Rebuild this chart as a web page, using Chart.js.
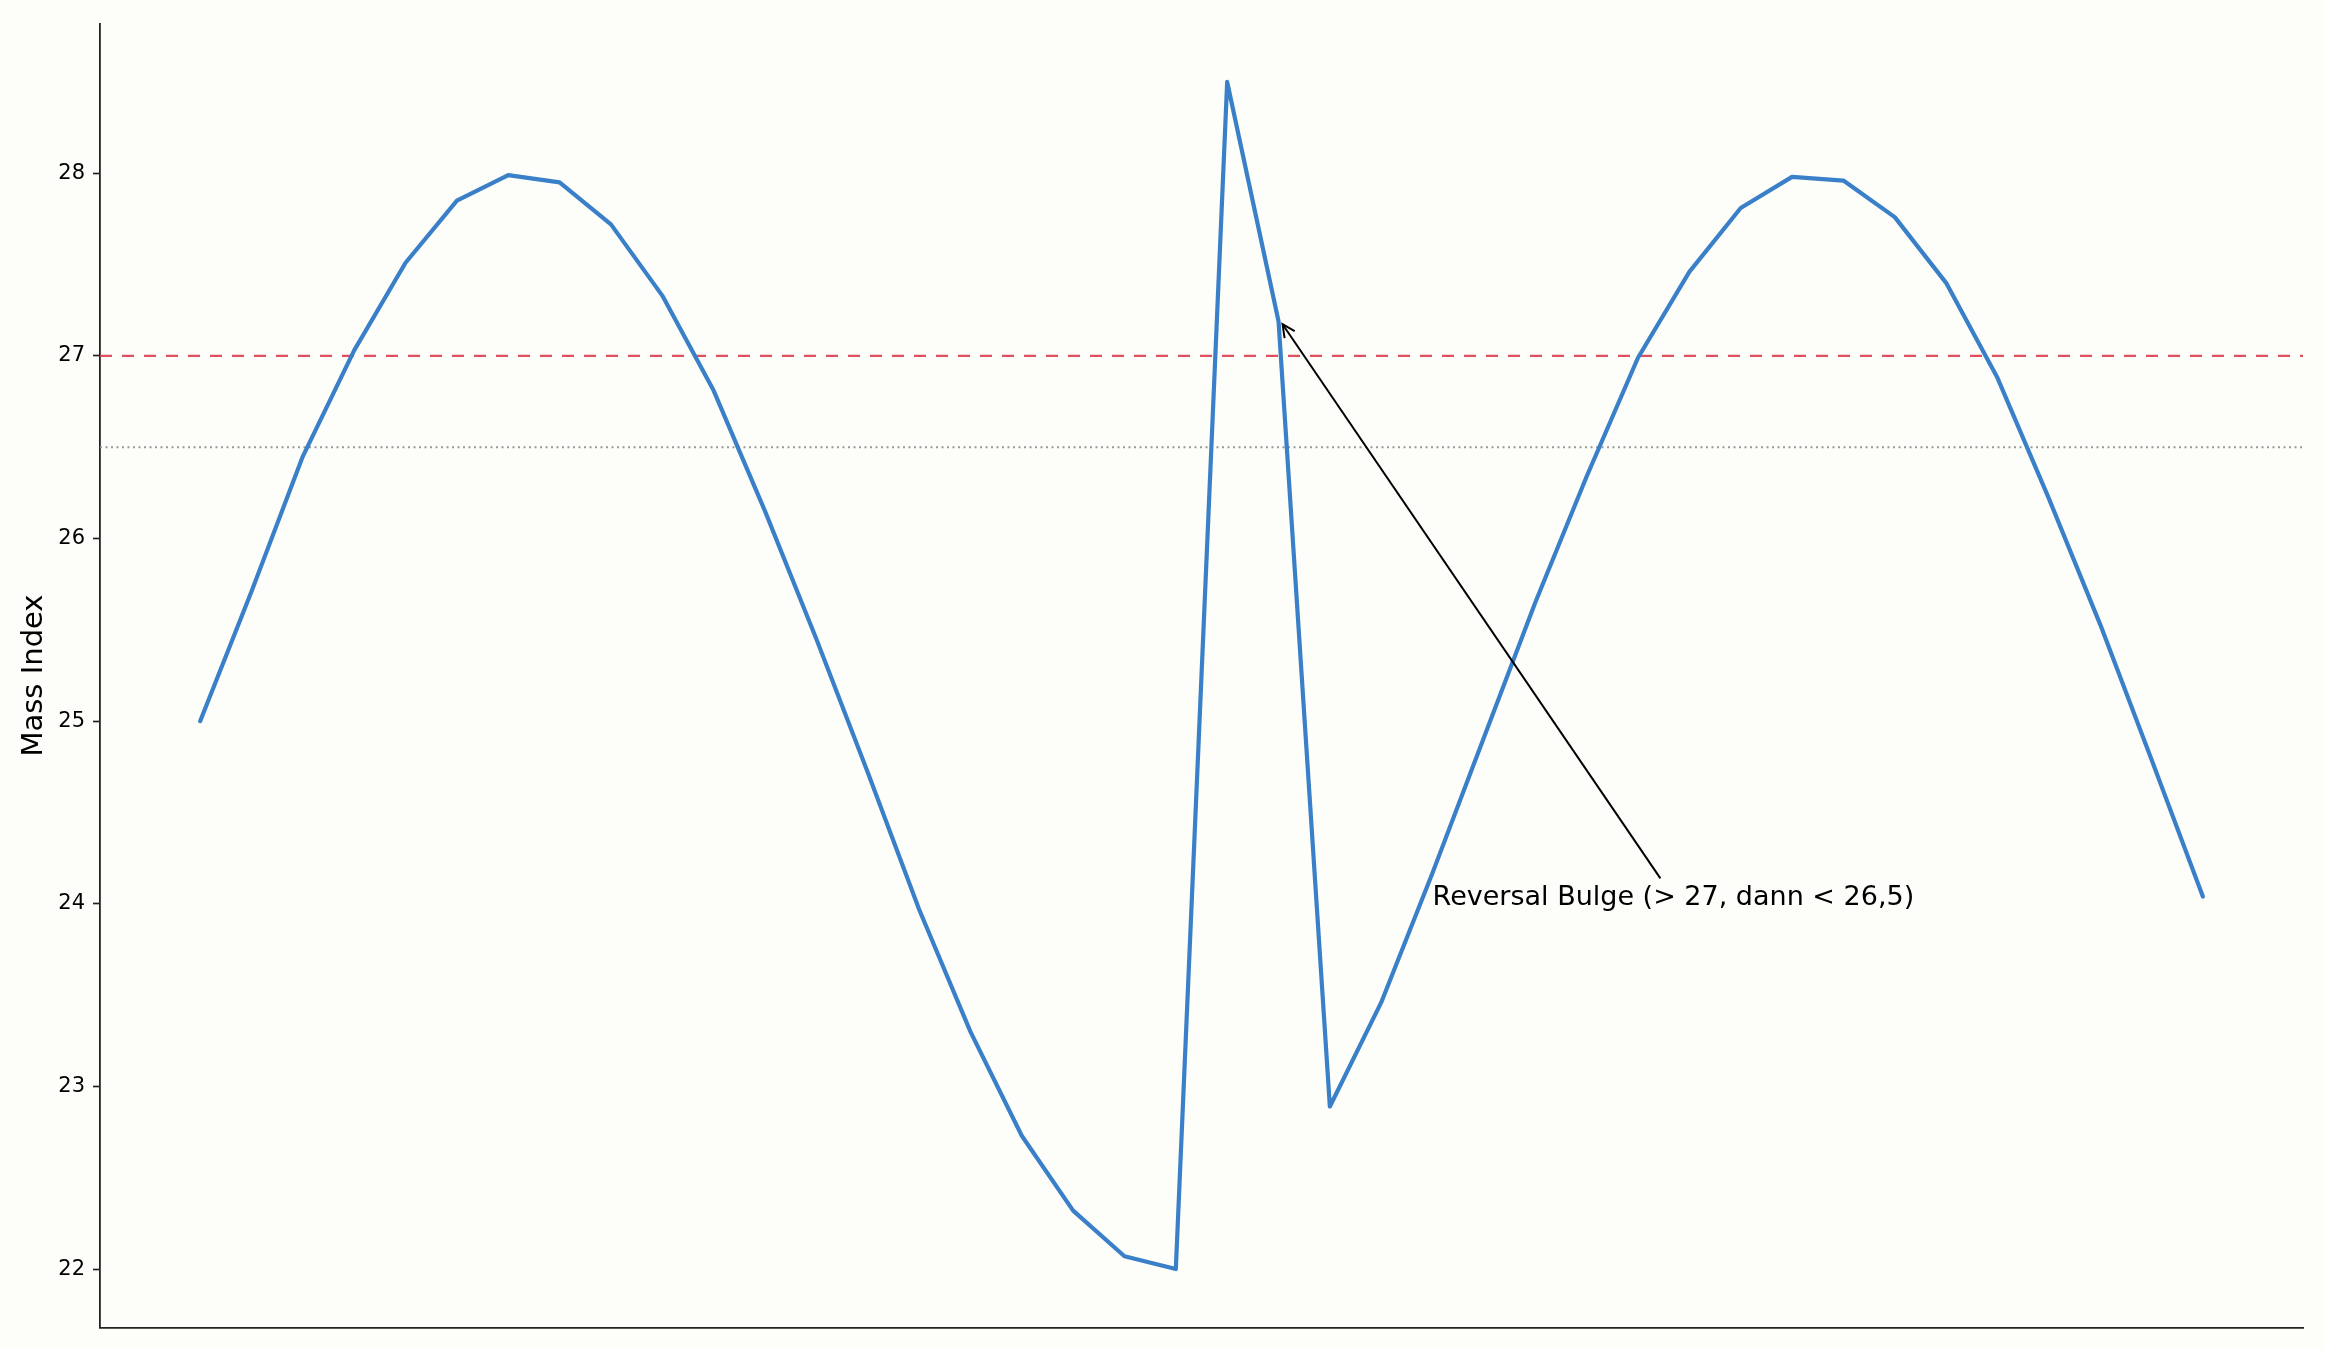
<!DOCTYPE html>
<html lang="de">
<head>
    <meta charset="UTF-8">
    <title>Mass Index</title>
    <script src="https://cdn.jsdelivr.net/npm/chart.js"></script>
    <style>
        body {
            margin: 0;
            background-color: #fdfdf9;
        }
        canvas {
            display: block;
        }
    </style>
</head>
<body>
    <canvas id="massChart" width="2325" height="1350"></canvas>

    <script>
        // Mass Index values (one point per period)
        const periods = Array.from({ length: 40 }, (_, i) => i);
        const massIndex = [
            25.00, 25.71, 26.45, 27.03, 27.51, 27.85, 27.99, 27.95, 27.72, 27.33,
            26.81, 26.15, 25.45, 24.72, 23.97, 23.30, 22.73, 22.32, 22.07, 22.00,
            28.50, 27.19, 22.89, 23.46, 24.17, 24.91, 25.65, 26.34, 26.99, 27.46,
            27.81, 27.98, 27.96, 27.76, 27.40, 26.88, 26.22, 25.53, 24.79, 24.04
        ];
        const yTicks = [22, 23, 24, 25, 26, 27, 28];

        // reference levels
        const bulgeHigh = 27;
        const bulgeLow = 26.5;

        // annotation: arrow points at period 21, text sits at (24, 24.03)
        const noteText = 'Reversal Bulge (> 27, dann < 26,5)';
        const notePoint = { x: 21, y: 27.19 };
        const noteAt = { x: 24, y: 24.03 };

        const font = 'DejaVu Sans';

        // dashed / dotted horizontal lines + arrow annotation
        const overlay = {
            id: 'overlay',
            beforeDatasetsDraw(chart) {
                const { ctx, chartArea, scales } = chart;
                const levels = [
                    { v: bulgeHigh, color: 'rgba(220, 60, 75, 0.9)', width: 2.4, dash: [12, 10] },
                    { v: bulgeLow, color: '#999', width: 2, dash: [2, 3.5] }
                ];
                ctx.save();
                levels.forEach(l => {
                    const y = scales.y.getPixelForValue(l.v);
                    ctx.beginPath();
                    ctx.setLineDash(l.dash);
                    ctx.strokeStyle = l.color;
                    ctx.lineWidth = l.width;
                    ctx.moveTo(chartArea.left, y);
                    ctx.lineTo(chartArea.right, y);
                    ctx.stroke();
                });
                ctx.restore();
            },
            afterDatasetsDraw(chart) {
                const { ctx, scales } = chart;
                const tx = scales.x.getPixelForValue(noteAt.x);
                const ty = scales.y.getPixelForValue(noteAt.y);
                ctx.save();
                ctx.font = '27px "' + font + '"';
                ctx.fillStyle = '#000';
                ctx.textAlign = 'left';
                ctx.textBaseline = 'middle';
                ctx.fillText(noteText, tx, ty);
                const w = ctx.measureText(noteText).width;

                // arrow from top centre of the text to the point
                const sx = tx + w / 2 - 13;
                const sy = ty - 20;
                const px = scales.x.getPixelForValue(notePoint.x) + 4;
                const py = scales.y.getPixelForValue(notePoint.y) + 3;
                ctx.strokeStyle = '#000';
                ctx.lineWidth = 2;
                ctx.beginPath();
                ctx.moveTo(sx, sy);
                ctx.lineTo(px, py);
                ctx.stroke();
                const ang = Math.atan2(py - sy, px - sx);
                const len = 14;
                ctx.beginPath();
                ctx.moveTo(px - len * Math.cos(ang - 0.45), py - len * Math.sin(ang - 0.45));
                ctx.lineTo(px, py);
                ctx.lineTo(px - len * Math.cos(ang + 0.45), py - len * Math.sin(ang + 0.45));
                ctx.stroke();
                ctx.restore();
            }
        };

        new Chart(document.getElementById('massChart'), {
            type: 'line',
            data: {
                datasets: [{
                    label: 'Mass Index',
                    data: massIndex.map((v, i) => ({ x: periods[i], y: v })),
                    borderColor: '#3a80c9',
                    borderWidth: 4.2,
                    borderJoinStyle: 'round',
                    borderCapStyle: 'round',
                    pointRadius: 0,
                    tension: 0,
                    fill: false
                }]
            },
            options: {
                responsive: false,
                devicePixelRatio: 1,
                animation: false,
                layout: {
                    padding: { top: 23.5, right: 22, left: 0, bottom: 0 }
                },
                plugins: {
                    legend: { display: false },
                    tooltip: { enabled: false }
                },
                scales: {
                    x: {
                        type: 'linear',
                        min: -1.95,
                        max: 40.95,
                        grid: { display: false },
                        ticks: { display: false },
                        border: { display: true, color: '#222', width: 1.8 },
                        afterFit(scale) { scale.height = 22.5; }
                    },
                    y: {
                        min: 21.68,
                        max: 28.82,
                        afterBuildTicks(scale) {
                            scale.ticks = yTicks.map(v => ({ value: v }));
                        },
                        afterFit(scale) { scale.width = 100; },
                        grid: {
                            drawOnChartArea: false,
                            drawTicks: true,
                            tickLength: 7,
                            tickWidth: 1.7,
                            tickColor: '#222'
                        },
                        border: { display: true, color: '#222', width: 1.8 },
                        ticks: {
                            color: '#000',
                            padding: 8,
                            font: { family: font, size: 21 }
                        },
                        title: {
                            display: true,
                            text: 'Mass Index',
                            color: '#000',
                            padding: { top: 17, bottom: 0 },
                            font: { family: font, size: 29 }
                        }
                    }
                }
            },
            plugins: [overlay]
        });
    </script>
</body>
</html>
